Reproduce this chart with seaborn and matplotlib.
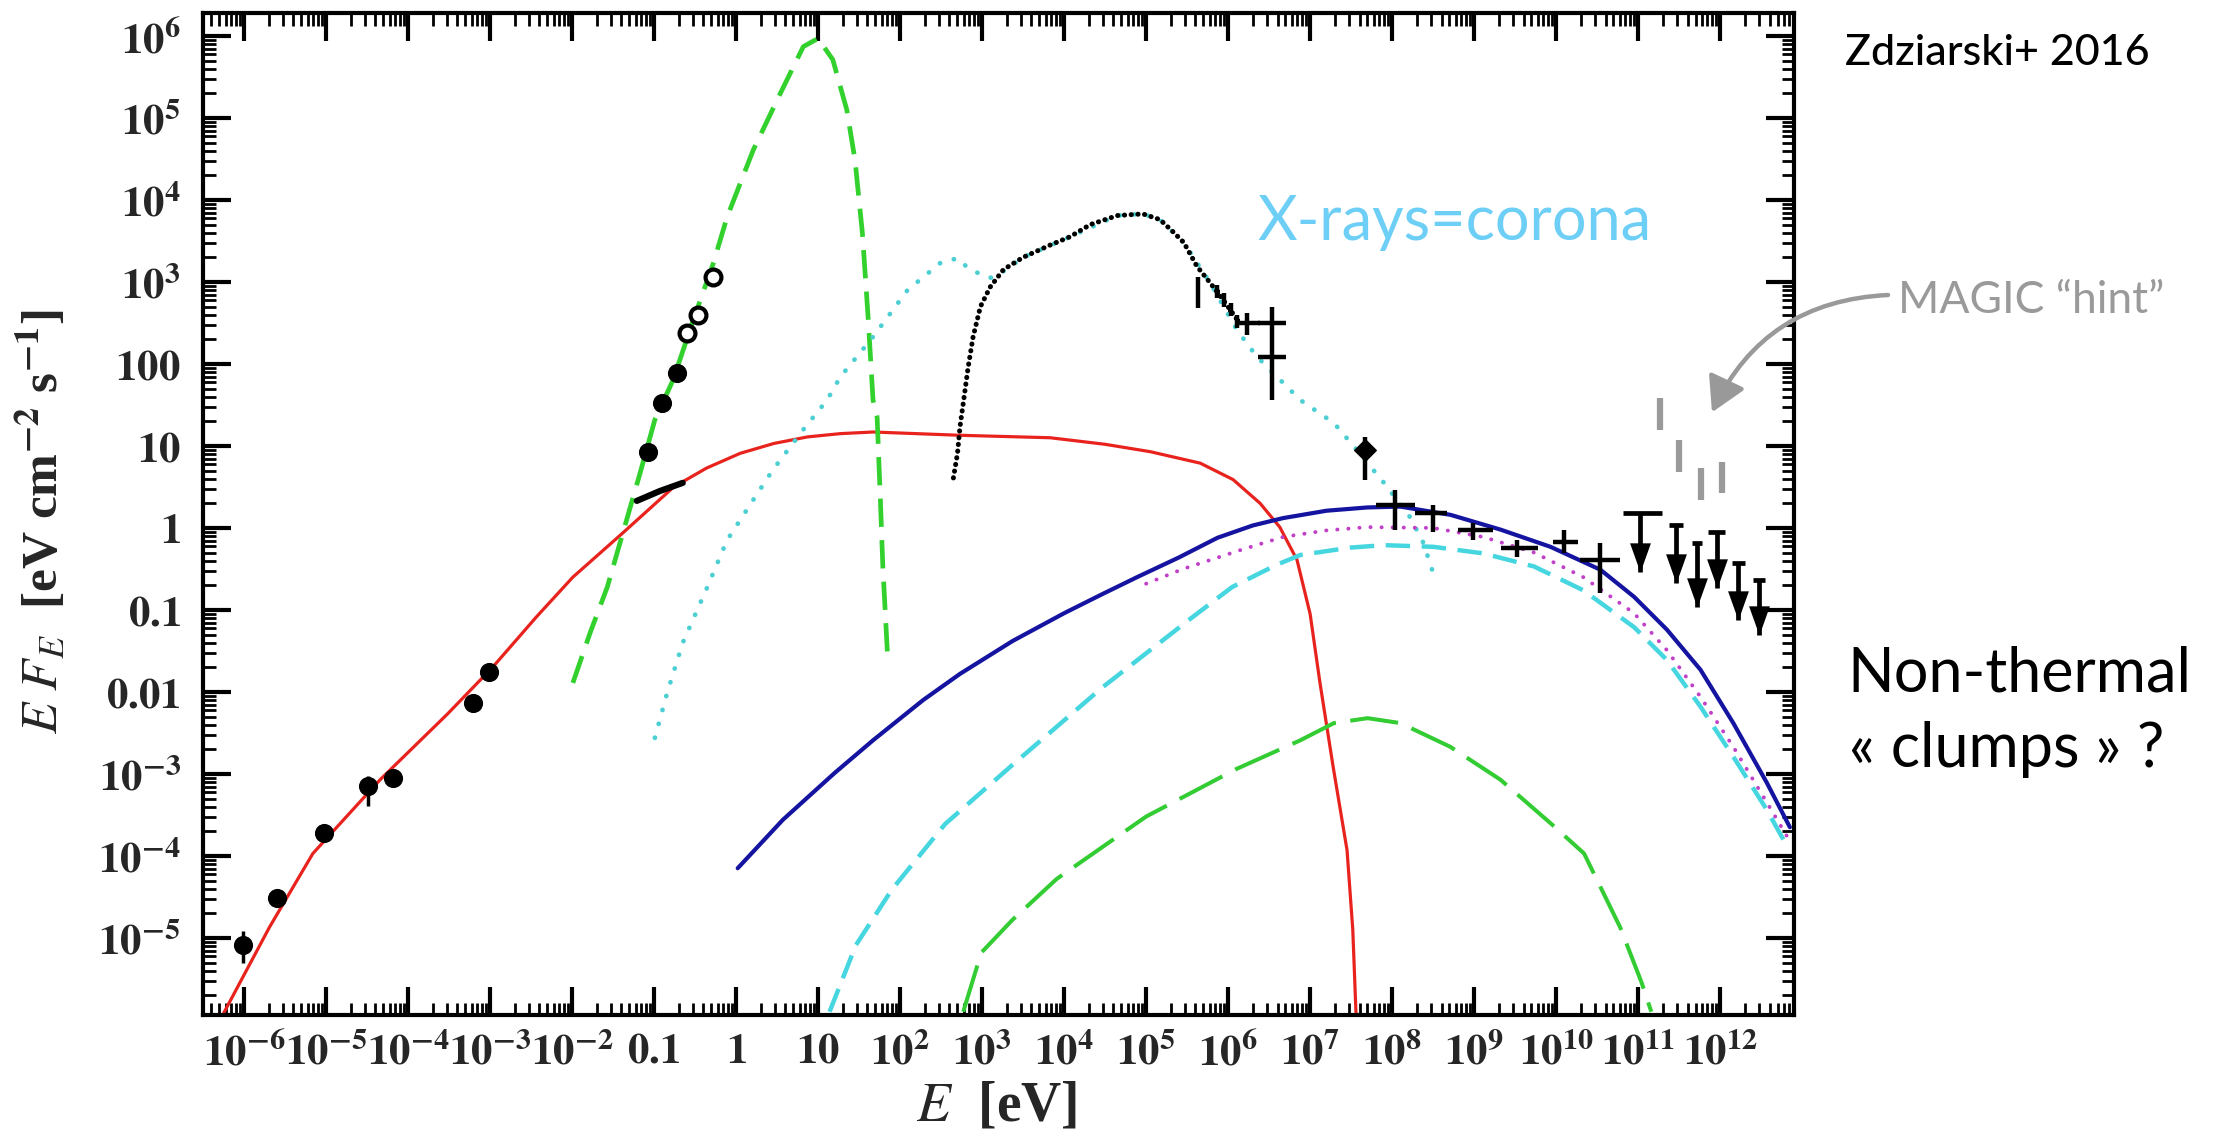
import numpy as np
import pandas as pd
import matplotlib
matplotlib.use("Agg")
import matplotlib.pyplot as plt
import seaborn as sns
from matplotlib.ticker import FixedLocator, FixedFormatter, LogLocator, NullFormatter

# ---------------------------------------------------------------- data (log10 E [eV], log10 E F_E)
# red solid: synchrotron component
red_logE = [-6.26, -5.69, -5.16, -4.34, -3.52, -2.97, -2.43, -1.99, -1.38, -0.76, -0.36, 0.05,
            0.46, 0.87, 1.27, 1.67, 2.73, 3.83, 4.50, 5.05, 5.66, 6.06, 6.39, 6.63, 6.84, 7.00,
            7.12, 7.28, 7.45, 7.52, 7.56]
red_logF = [-5.94, -4.87, -3.97, -3.07, -2.27, -1.70, -1.08, -0.60, -0.06, 0.50, 0.73, 0.91,
            1.03, 1.11, 1.15, 1.17, 1.13, 1.10, 1.02, 0.93, 0.79, 0.59, 0.30, 0.01, -0.39, -1.05,
            -1.89, -2.91, -3.93, -4.90, -5.94]

# green dashed: companion star blackbody
star_logE = [-1.99, -1.78, -1.57, -1.38, -1.17, -0.99, -0.77, -0.52, -0.28, -0.11, 0.21, 0.54,
             0.82, 1.00, 1.18, 1.35, 1.45, 1.54, 1.61, 1.67, 1.72, 1.76, 1.79, 1.85]
star_logF = [-1.89, -1.28, -0.72, -0.06, 0.67, 1.32, 1.80, 2.54, 3.22, 3.79, 4.61, 5.30,
             5.87, 5.97, 5.71, 5.10, 4.49, 3.60, 2.57, 1.56, 1.35, 0.34, -0.48, -1.61]

# cyan dotted: thermal Comptonization
comp_logE = [-0.99, -0.84, -0.65, -0.35, -0.11, 0.13, 0.45, 0.82, 1.11, 1.27, 1.67, 2.09, 2.49,
             2.70, 2.85, 3.10, 3.26, 3.50, 4.07, 4.65, 4.96, 5.17, 5.46, 5.78, 6.11, 6.35, 6.67,
             6.88, 7.29, 7.57, 7.90, 8.22, 8.38, 8.50]
comp_logF = [-2.56, -2.01, -1.40, -0.72, -0.15, 0.22, 0.71, 1.20, 1.56, 1.84, 2.33, 2.90, 3.23,
             3.29, 3.15, 3.05, 3.13, 3.30, 3.55, 3.81, 3.83, 3.76, 3.48, 2.99, 2.41, 2.09, 1.77,
             1.56, 1.28, 0.95, 0.55, 0.13, -0.18, -0.55]

# blue solid: total non-thermal emission
blue_logE = [0.02, 0.57, 1.20, 1.67, 2.28, 2.73, 3.37, 4.00, 4.46, 4.89, 5.40, 5.87, 6.30, 6.67,
             7.20, 7.70, 8.10, 8.71, 9.32, 9.93, 10.54, 10.95, 11.35, 11.76, 12.16, 12.57, 12.85]
blue_logF = [-4.15, -3.56, -2.99, -2.59, -2.10, -1.78, -1.38, -1.04, -0.81, -0.60, -0.36, -0.12,
             0.03, 0.12, 0.21, 0.25, 0.26, 0.16, -0.02, -0.23, -0.51, -0.84, -1.24, -1.73, -2.38,
             -3.11, -3.65]

# magenta dotted
mag_logE = [5.00, 5.45, 6.15, 6.67, 7.20, 7.70, 8.50, 9.11, 9.73, 10.33, 10.95, 11.35, 11.76,
            12.16, 12.57, 12.82]
mag_logF = [-0.68, -0.50, -0.27, -0.11, -0.03, 0.01, 0.00, -0.11, -0.30, -0.60, -1.04, -1.49,
            -2.06, -2.67, -3.35, -3.77]

# cyan dashed
cdash_logE = [1.14, 1.46, 1.90, 2.55, 3.37, 4.46, 5.55, 6.05, 6.59, 6.88, 7.49, 7.90, 8.50,
              9.11, 9.73, 10.33, 10.95, 11.35, 11.76, 12.16, 12.57, 12.82]
cdash_logF = [-5.90, -5.09, -4.41, -3.61, -2.89, -1.95, -1.10, -0.72, -0.45, -0.33, -0.24,
              -0.21, -0.23, -0.31, -0.47, -0.76, -1.21, -1.61, -2.18, -2.79, -3.44, -3.89]

# green long-dashed
gld_logE = [2.77, 2.99, 3.37, 3.91, 5.00, 6.10, 6.88, 7.29, 7.70, 8.10, 8.71, 9.32, 9.93,
            10.34, 10.78, 11.04, 11.16]
gld_logF = [-5.90, -5.18, -4.78, -4.28, -3.52, -2.94, -2.59, -2.38, -2.32, -2.38, -2.67,
            -3.07, -3.60, -3.97, -4.87, -5.54, -5.90]

# radio / IR points
radio_logE = [-6.01, -5.60, -5.02, -4.49, -4.18, -3.21, -3.01]
radio_logF = [-5.09, -4.51, -3.72, -3.15, -3.05, -2.13, -1.76]
radio_lo = [-5.31, -4.56, -3.78, -3.39, -3.10, -2.18, -1.81]
radio_hi = [-4.91, -4.46, -3.66, -3.03, -3.00, -2.08, -1.71]

# optical / IR photometry
opt_logE = [-1.07, -0.90, -0.72, -0.60, -0.46, -0.28]
opt_logF = [0.93, 1.52, 1.89, 2.38, 2.60, 3.06]
opt_filled = [True, True, True, False, False, False]

# near-IR spectrum segment
nir_logE = [-1.21, -0.93, -0.65]
nir_logF = [0.33, 0.45, 0.55]

# X-ray spectrum
xray_logE = [2.65, 2.70, 2.73, 2.77, 2.83, 2.89, 2.98, 3.10, 3.26, 3.50, 3.83, 4.07, 4.32, 4.65,
             4.96, 5.17, 5.33, 5.46, 5.62, 5.78, 5.94, 6.11]
xray_logF = [0.61, 0.91, 1.23, 1.52, 1.96, 2.33, 2.70, 2.94, 3.15, 3.30, 3.45, 3.55, 3.70, 3.81,
             3.83, 3.76, 3.61, 3.48, 3.19, 2.99, 2.78, 2.54]

# hard X-ray / soft gamma-ray points
hx_logE = [5.63, 5.87, 5.95, 6.03, 6.11, 6.23, 6.54, 6.54, 7.67]
hx_logF = [2.90, 2.88, 2.78, 2.66, 2.52, 2.50, 2.50, 2.09, 0.95]
hx_xlo = [5.63, 5.84, 5.92, 6.00, 6.08, 6.11, 6.37, 6.37, 7.67]
hx_xhi = [5.63, 5.90, 5.98, 6.06, 6.14, 6.39, 6.70, 6.70, 7.67]
hx_ylo = [2.68, 2.80, 2.70, 2.58, 2.44, 2.35, 2.29, 1.56, 0.59]
hx_yhi = [3.06, 2.96, 2.86, 2.74, 2.60, 2.62, 2.70, 2.29, 1.11]

# Fermi-LAT points
lat_logE = [8.04, 8.50, 8.99, 9.52, 10.09, 10.54]
lat_logF = [0.28, 0.18, -0.02, -0.24, -0.17, -0.39]
lat_xlo = [7.80, 8.28, 8.80, 9.33, 9.96, 10.29]
lat_xhi = [8.28, 8.67, 9.23, 9.78, 10.27, 10.78]
lat_ylo = [-0.02, -0.05, -0.15, -0.35, -0.30, -0.79]
lat_yhi = [0.46, 0.28, 0.06, -0.15, -0.02, -0.18]

# upper limits
ul_logE = [11.02, 11.46, 11.72, 11.96, 12.22, 12.47]
ul_cap = [0.18, 0.04, -0.18, -0.05, -0.43, -0.63]
ul_tip = [-0.54, -0.67, -0.96, -0.73, -1.12, -1.30]
ul_xlo = [10.81, 11.37, 11.66, 11.85, 12.15, 12.40]
ul_xhi = [11.29, 11.55, 11.78, 12.06, 12.30, 12.55]

# MAGIC hint
magic_logE = [11.26, 11.50, 11.76, 12.02]
magic_lo = [1.20, 0.68, 0.34, 0.43]
magic_hi = [1.59, 1.07, 0.73, 0.80]

x_tick_exp = list(range(-6, 13))
x_tick_labels = [r'$\mathbf{10^{-6}}$', r'$\mathbf{10^{-5}}$', r'$\mathbf{10^{-4}}$',
                 r'$\mathbf{10^{-3}}$', r'$\mathbf{10^{-2}}$', r'$\mathbf{0.1}$', r'$\mathbf{1}$',
                 r'$\mathbf{10}$', r'$\mathbf{10^{2}}$', r'$\mathbf{10^{3}}$', r'$\mathbf{10^{4}}$',
                 r'$\mathbf{10^{5}}$', r'$\mathbf{10^{6}}$', r'$\mathbf{10^{7}}$', r'$\mathbf{10^{8}}$',
                 r'$\mathbf{10^{9}}$', r'$\mathbf{10^{10}}$', r'$\mathbf{10^{11}}$', r'$\mathbf{10^{12}}$']
y_tick_exp = list(range(-5, 7))
y_tick_labels = [r'$\mathbf{10^{-5}}$', r'$\mathbf{10^{-4}}$', r'$\mathbf{10^{-3}}$',
                 r'$\mathbf{0.01}$', r'$\mathbf{0.1}$', r'$\mathbf{1}$', r'$\mathbf{10}$',
                 r'$\mathbf{100}$', r'$\mathbf{10^{3}}$', r'$\mathbf{10^{4}}$', r'$\mathbf{10^{5}}$',
                 r'$\mathbf{10^{6}}$']
x_label = r'$E$  [eV]'
y_label = r'$E\ F_E$  [eV cm$^{\mathbf{-2}}$ s$^{\mathbf{-1}}$]'

# ---------------------------------------------------------------- style
sns.set_style("white")
plt.rcParams["font.family"] = ["Lato", "DejaVu Sans"]
plt.rcParams["mathtext.fontset"] = "stix"

W, H, DPI = 2219, 1136, 100
fig = plt.figure(figsize=(W / DPI, H / DPI), dpi=DPI)
fig.patch.set_facecolor("white")
ax = fig.add_axes([203 / W, 1 - 1015 / H, (1794 - 203) / W, (1015 - 13) / H])
ax.set_xscale("log")
ax.set_yscale("log")


def pw(v):
    return 10.0 ** np.asarray(v, dtype=float)


def curve(logE, logF, color, lw, ls, cap="butt", z=2):
    d = pd.DataFrame({"E": pw(logE), "F": pw(logF)})
    sns.lineplot(data=d, x="E", y="F", ax=ax, color=color, lw=lw, linestyle=ls,
                 sort=False, estimator=None, legend=False, zorder=z,
                 dash_capstyle=cap, solid_capstyle="round", solid_joinstyle="round")


curve(red_logE, red_logF, "#e8231e", 2.3, "-")
curve(star_logE, star_logF, "#33d12e", 3.4, (0, (6.0, 2.8)))
curve(comp_logE, comp_logF, "#4ccfd2", 3.4, (0, (0.05, 3.0)), cap="round")
curve(gld_logE, gld_logF, "#33cc33", 2.9, (0, (12, 3.6)))
curve(cdash_logE, cdash_logF, "#45d6e0", 3.2, (0, (5.5, 2.6)))
curve(mag_logE, mag_logF, "#c040c8", 2.8, (0, (0.05, 2.8)), cap="round")
curve(blue_logE, blue_logF, "#1414a0", 3.0, "-")

# X-ray spectrum drawn as densely spaced dots
curve(xray_logE, xray_logF, "black", 3.6, (0, (0.05, 1.3)), cap="round", z=3)

# radio / IR points
ax.errorbar(pw(radio_logE), pw(radio_logF),
            yerr=[pw(radio_logF) - pw(radio_lo), pw(radio_hi) - pw(radio_logF)],
            fmt="none", ecolor="black", elinewidth=2.5, zorder=4)
sns.scatterplot(x=pw(radio_logE), y=pw(radio_logF), ax=ax, color="black", s=190,
                edgecolor="black", linewidth=0, zorder=5, legend=False)

# optical / IR photometry
opt_E = pw(opt_logE)
opt_F = pw(opt_logF)
filled = np.array(opt_filled)
sns.scatterplot(x=opt_E[filled], y=opt_F[filled], ax=ax, color="black", s=190,
                edgecolor="black", linewidth=0, zorder=5, legend=False)
sns.scatterplot(x=opt_E[~filled], y=opt_F[~filled], ax=ax, facecolor="white", s=130,
                edgecolor="black", linewidth=3, zorder=5, legend=False)

# near-IR spectrum segment
curve(nir_logE, nir_logF, "black", 4.5, "-", z=4)


# hard X-ray / gamma-ray crosses
def crosses(logE, logF, xlo, xhi, ylo, yhi, lw=3.2):
    E, F = pw(logE), pw(logF)
    ax.errorbar(E, F, xerr=[E - pw(xlo), pw(xhi) - E], yerr=[F - pw(ylo), pw(yhi) - F],
                fmt="none", ecolor="black", elinewidth=lw, capsize=0, zorder=6)


crosses(hx_logE, hx_logF, hx_xlo, hx_xhi, hx_ylo, hx_yhi)
ax.scatter(pw(hx_logE[-1:]), pw(hx_logF[-1:]), s=120, color="black", marker="D", zorder=6)
crosses(lat_logE, lat_logF, lat_xlo, lat_xhi, lat_ylo, lat_yhi)

# upper limits with downward arrows
ax.vlines(pw(ul_logE), pw(ul_tip), pw(ul_cap), color="black", lw=3.4, zorder=6)
ax.hlines(pw(ul_cap), pw(ul_xlo), pw(ul_xhi), color="black", lw=3.4, zorder=6)
arrow_marker = [(-1, 2.8), (1, 2.8), (0, 0), (-1, 2.8)]
ax.scatter(pw(ul_logE), pw(ul_tip), marker=arrow_marker, s=42 ** 2, color="black",
           linewidths=0, zorder=6)

# MAGIC hint
ax.vlines(pw(magic_logE), pw(magic_lo), pw(magic_hi), color="#9a9a9a", lw=4.5, zorder=6)

# ---------------------------------------------------------------- axes
ax.set_xlim(10 ** -6.5, 10 ** 12.9)
ax.set_ylim(10 ** -5.94, 10 ** 6.28)
ax.set_xlabel("")
ax.set_ylabel("")

ax.xaxis.set_major_locator(FixedLocator(pw(x_tick_exp)))
ax.xaxis.set_major_formatter(FixedFormatter(x_tick_labels))
ax.yaxis.set_major_locator(FixedLocator(pw(y_tick_exp)))
ax.yaxis.set_major_formatter(FixedFormatter(y_tick_labels))
for axis in (ax.xaxis, ax.yaxis):
    axis.set_minor_locator(LogLocator(base=10, subs=np.arange(2, 10), numticks=100))
    axis.set_minor_formatter(NullFormatter())

ax.tick_params(which="both", direction="in", top=True, right=True, bottom=True, left=True,
               color="black")
ax.tick_params(which="major", length=20, width=3)
ax.tick_params(which="minor", length=9, width=2)
ax.tick_params(axis="x", which="major", labelsize=31, pad=12)
ax.tick_params(axis="y", which="major", labelsize=31, pad=16)
for sp in ax.spines.values():
    sp.set_linewidth(3)
    sp.set_color("black")
    sp.set_visible(True)

serif = ["Liberation Serif", "DejaVu Serif"]
fig.text(997 / W, 1 - 1106 / H, x_label, ha="center", va="center", fontsize=40,
         family=serif, weight="bold")
fig.text(42 / W, 1 - 522 / H, y_label, ha="center", va="center", rotation=90, fontsize=37,
         family=serif, weight="bold")

# ---------------------------------------------------------------- annotations
def ftext(x, y, s, **kw):
    fig.text(x / W, 1 - y / H, s, ha="left", va="baseline", **kw)


ftext(1845, 65, "Zdziarski+ 2016", fontsize=31, color="black", fontweight="medium")
ftext(1257, 240, "X-rays=corona", fontsize=44, color="#6dcff6")
ftext(1898, 313, "MAGIC \u201chint\u201d", fontsize=32, color="#9a9a9a")
ftext(1847, 691, "Non-thermal", fontsize=44, color="black")
ftext(1849, 767, "\u00ab clumps \u00bb ?", fontsize=44, color="black")

ax.annotate("", xy=(10 ** 11.90, 10 ** 1.41), xycoords="data",
            xytext=(1888 / W, 1 - 295 / H), textcoords="figure fraction",
            arrowprops=dict(arrowstyle="-|>,head_length=0.7,head_width=0.4", color="#999999",
                            lw=3.2, connectionstyle="arc3,rad=0.3", mutation_scale=30,
                            shrinkA=0, shrinkB=0),
            annotation_clip=False)

fig.savefig("out.png", dpi=DPI, facecolor="white")
